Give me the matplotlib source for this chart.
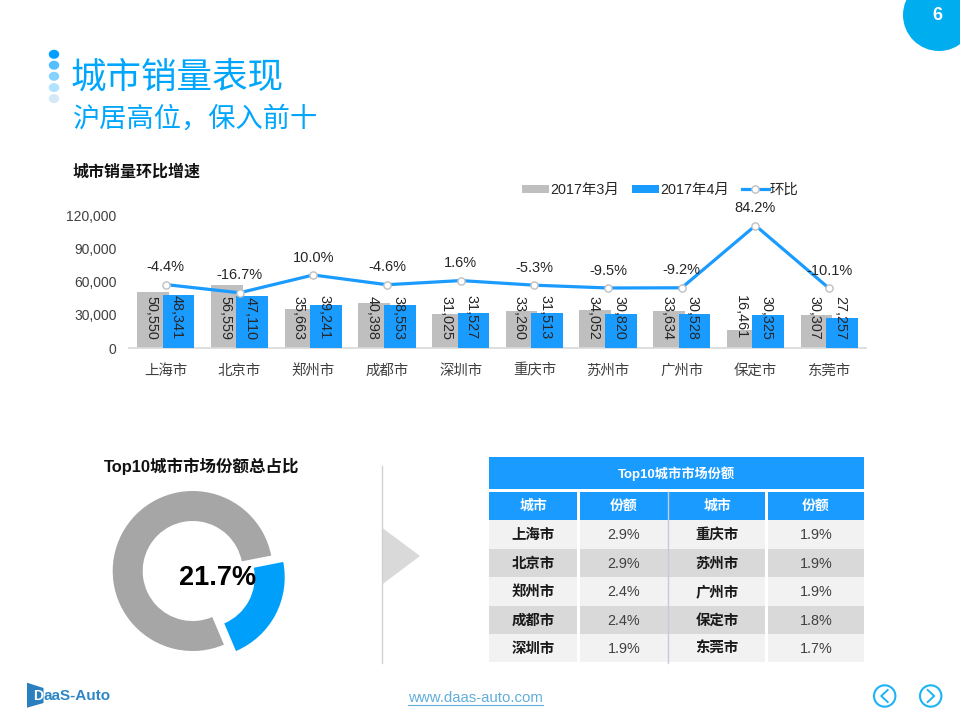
import matplotlib
matplotlib.use('Agg')
import matplotlib.pyplot as plt
from matplotlib.patches import Rectangle, Ellipse, Circle, Polygon
from matplotlib.ticker import FuncFormatter

plt.rcParams['font.family'] = ['Liberation Sans', 'Noto Sans CJK SC', 'DejaVu Sans']

# chart data
cities = ['上海市', '北京市', '郑州市', '成都市', '深圳市', '重庆市', '苏州市', '广州市', '保定市', '东莞市']
sales_mar = [50550, 56559, 35663, 40398, 31025, 33260, 34052, 33634, 16461, 30307]
sales_apr = [48341, 47110, 39241, 38553, 31527, 31513, 30820, 30528, 30325, 27257]
growth = [-4.4, -16.7, 10.0, -4.6, 1.6, -5.3, -9.5, -9.2, 84.2, -10.1]
y_ticks = [0, 30000, 60000, 90000, 120000]
series_names = ['2017年3月', '2017年4月', '环比']

share_total = [21.7, 78.3]
table_cities_left = ['上海市', '北京市', '郑州市', '成都市', '深圳市']
table_share_left = ['2.9%', '2.9%', '2.4%', '2.4%', '1.9%']
table_cities_right = ['重庆市', '苏州市', '广州市', '保定市', '东莞市']
table_share_right = ['1.9%', '1.9%', '1.9%', '1.8%', '1.7%']

W, H = 960, 720

BLUE = '#1A9BFF'
TITLE_BLUE = '#00A6FB'
TEXT = '#404040'
CJK = ['Noto Sans CJK SC', 'DejaVu Sans']


def px_axes(fig, left, top, right, bottom, **kw):
    return fig.add_axes([left / W, 1 - bottom / H, (right - left) / W, (bottom - top) / H], **kw)


fig = plt.figure(figsize=(9.6, 7.2), dpi=100, facecolor='white')

# page layer in pixel coordinates
page = fig.add_axes([0, 0, 1, 1], zorder=0)
page.set_xlim(0, W)
page.set_ylim(H, 0)
page.axis('off')

# page corner and heading
page.add_patch(Circle((939, 15), 36, color='#00AEEF', lw=0))
page.text(937, 16, '6', color='white', fontsize=13, fontweight='bold', ha='center', va='center')

dot_colors = ['#009FFF', '#55BEFF', '#85D2FF', '#B0E3FF', '#D5E8F6']
for yy, c in zip([54.3, 65.2, 76.3, 87.6, 98.6], dot_colors):
    page.add_patch(Ellipse((54, yy), 10.5, 9, color=c, lw=0))

page.text(70.5, 78, '城市销量表现', color=TITLE_BLUE, fontsize=25.6, family=CJK, ha='left', va='center')
page.text(73, 119, '沪居高位，保入前十', color=TITLE_BLUE, fontsize=19.6, family=CJK, ha='left', va='center')
page.text(73, 172, '城市销量环比增速', color='#111111', fontsize=11.5, fontweight='bold', family=CJK, ha='left', va='center')

# combo chart
ax = px_axes(fig, 129, 215, 866, 348.3, zorder=2)
ax.patch.set_alpha(0)
xs = list(range(len(cities)))
bar_w = 0.43
off = 0.173
bars_mar = ax.bar([x - off for x in xs], sales_mar, bar_w, color='#BFBFBF', label=series_names[0], zorder=2)
bars_apr = ax.bar([x + off for x in xs], sales_apr, bar_w, color=BLUE, label=series_names[1], zorder=3)
ax.set_xlim(-0.5, len(cities) - 0.5)
ax.set_ylim(0, 120000)
ax.set_yticks(y_ticks)
ax.yaxis.set_major_formatter(FuncFormatter(lambda v, p: f'{int(v):,}'))
ax.set_xticks(xs)
ax.set_xticklabels(cities, family=CJK)
ax.tick_params(axis='both', length=0, labelsize=10, labelcolor=TEXT)
ax.tick_params(axis='y', pad=9)
ax.tick_params(axis='x', pad=11, labelsize=10.4)
for s in ['top', 'left', 'right']:
    ax.spines[s].set_visible(False)
ax.spines['bottom'].set_color('#D9D9D9')
ax.spines['bottom'].set_linewidth(1.2)

for rects, vals in ((bars_mar, sales_mar), (bars_apr, sales_apr)):
    for r, v in zip(rects, vals):
        ax.annotate(f'{v:,}', (r.get_x() + r.get_width() / 2, 0), xytext=(-1.2, 6.3), textcoords='offset points',
                    rotation=270, ha='center', va='bottom', fontsize=10.4, color='#262626', zorder=6)

ax2 = ax.twinx()
ax2.set_ylim(-100, 100)
ax2.axis('off')
line, = ax2.plot(xs, growth, color=BLUE, lw=2.3, marker='o', ms=5.2, mfc='white', mec='#BFBFBF', mew=1,
                 label=series_names[2], zorder=5)
for x, g in zip(xs, growth):
    ax2.annotate(f'{g:.1f}%', (x, g), xytext=(0, 12.5), textcoords='offset points', ha='center', va='center',
                 fontsize=10.5, color='#262626', zorder=7)

fig.legend(handles=[bars_mar, bars_apr, line], labels=series_names, loc='center left',
           bbox_to_anchor=(522 / W, 1 - 190 / H), bbox_transform=fig.transFigure, ncol=3, frameon=False,
           fontsize=10.4, borderpad=0, borderaxespad=0, handlelength=1.85, handleheight=0.55, handletextpad=0.1,
           columnspacing=0.9, labelcolor='#262626')

# donut
page.text(104, 466, 'Top10城市市场份额总占比', color='#111111', fontsize=11.9, fontweight='bold', ha='left', va='center')
donut = px_axes(fig, 82, 461, 302, 681, zorder=1)
donut.pie(share_total, radius=80, explode=[13.6, 0], startangle=-67, colors=['#00A0FA', '#A6A6A6'],
          wedgeprops={'width': 30, 'linewidth': 0})
donut.set_xlim(-110.7, 109.3)
donut.set_ylim(-110, 110)
page3 = fig.add_axes([0, 0, 1, 1], zorder=4)
page3.set_xlim(0, W)
page3.set_ylim(H, 0)
page3.axis('off')
page3.text(217.5, 578, f'{share_total[0]}%', color='black', fontsize=19.5, fontweight='bold', ha='center', va='center')

# separator and arrow
page.plot([382.3, 382.3], [466, 663], color='#D0D0D0', lw=1)
page.add_patch(Polygon([(382.8, 528.3), (420, 556), (382.8, 584)], closed=True, color='#D9D9D9', lw=0))

# table
col_edges = [(489, 577), (580, 667.7), (668.7, 765.3), (768, 864)]
row_edges = [(520, 548.7), (549.3, 576.7), (577.3, 605.7), (606.3, 633.7), (634.3, 662)]
page.add_patch(Rectangle((489, 457.3), 375, 32, color=BLUE, lw=0))
page.text(676.5, 473.5, 'Top10城市市场份额', color='white', fontsize=9.5, fontweight='bold', ha='center', va='center')
for (x0, x1), h in zip(col_edges, ['城市', '份额', '城市', '份额']):
    page.add_patch(Rectangle((x0, 492.3), x1 - x0, 27.7, color=BLUE, lw=0))
    page.text((x0 + x1) / 2, 506, h, color='white', fontsize=10, fontweight='bold', family=CJK, ha='center', va='center')
for i, (y0, y1) in enumerate(row_edges):
    fill = '#F2F2F2' if i % 2 == 0 else '#D9D9D9'
    row = [table_cities_left[i], table_share_left[i], table_cities_right[i], table_share_right[i]]
    for j, ((x0, x1), val) in enumerate(zip(col_edges, row)):
        page.add_patch(Rectangle((x0, y0), x1 - x0, y1 - y0, color=fill, lw=0))
        if j % 2 == 0:
            page.text((x0 + x1) / 2, (y0 + y1) / 2 + 0.8, val, color='#1A1A1A', fontsize=10.4, fontweight='bold', family=CJK,
                      ha='center', va='center')
        else:
            page.text((x0 + x1) / 2, (y0 + y1) / 2 + 0.8, val, color=TEXT, fontsize=10.4, ha='center', va='center')
page.plot([668.2, 668.2], [492.3, 663], color='#C4CDD4', lw=1)

# footer
page.add_patch(Polygon([(27, 682.7), (43.5, 688), (43.5, 703), (27, 707.7)], closed=True, color='#2A7FBE', lw=0))
page.text(33, 695.5, 'D', color='white', fontsize=10, fontweight='bold', ha='left', va='center')
page.text(44, 695.5, 'aaS-Auto', color='#2F86C6', fontsize=11, fontweight='bold', ha='left', va='center')
page.text(475.5, 698, 'www.daas-auto.com', color='#62AEDC', fontsize=10.8, ha='center', va='center')
page.plot([408, 543], [704.5, 704.5], color='#62AEDC', lw=0.8)

for cx, sgn in ((884.7, 1), (930.7, -1)):
    page.add_patch(Circle((cx, 696), 10.7, fill=False, ec='#1CB4F4', lw=1.5))
    page.plot([cx + 3 * sgn, cx - 3.5 * sgn, cx + 3 * sgn], [690, 696, 702], color='#1CB4F4', lw=1.4)

fig.savefig('out.png', dpi=100)
